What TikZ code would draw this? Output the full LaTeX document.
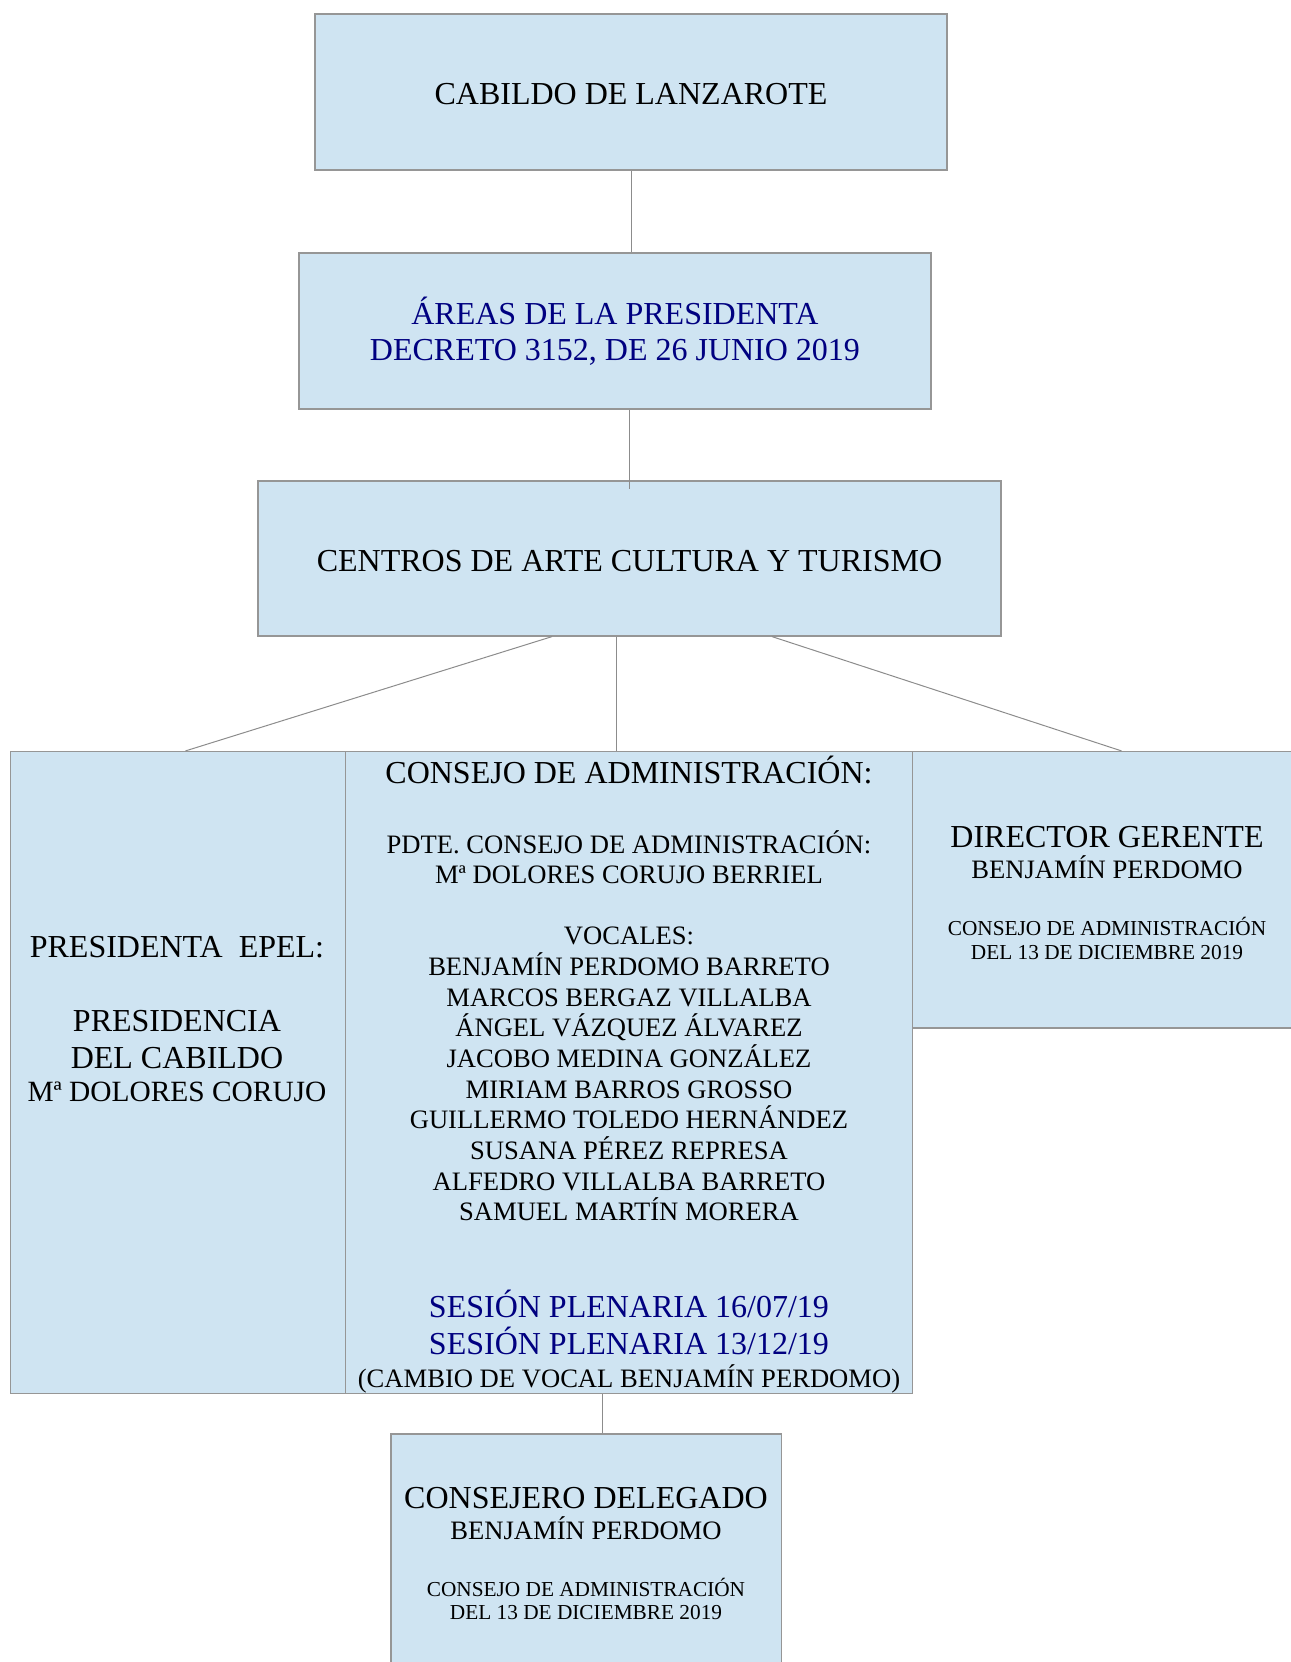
\documentclass[tikz,border=0pt]{standalone}
\usepackage{fontspec}
\setmainfont{Liberation Serif}
\definecolor{boxfill}{RGB}{207,228,242}
\definecolor{boxline}{RGB}{150,150,150}
\definecolor{linkgray}{RGB}{140,140,140}
\definecolor{navytext}{RGB}{0,0,128}

\begin{document}
\begin{tikzpicture}[x=1pt, y=-1pt,
    box/.style={draw=boxline, fill=boxfill, line width=1.2pt, inner sep=0pt, align=center},
    link/.style={draw=linkgray, line width=1pt},
    lbl/.style={anchor=base, inner sep=0pt},
    bigtxt/.style={font=\fontsize{32}{36}\selectfont},
    midtxt/.style={font=\fontsize{26.6}{30.5}\selectfont},
    smalltxt/.style={font=\fontsize{21.3}{24}\selectfont}]

    \useasboundingbox (0,0) rectangle (1290,1662);

    % Top boxes
    \node[box, bigtxt, text height=25pt, text depth=0pt, minimum width=632pt, minimum height=156pt] at (631,92) (cabildo) {CABILDO DE LANZAROTE};
    \node[box, bigtxt, text=navytext, minimum width=632pt, minimum height=156pt] at (615,331) (areas) {ÁREAS DE LA PRESIDENTA\\DECRETO 3152, DE 26 JUNIO 2019};
    \node[box, bigtxt, text height=25pt, text depth=0pt, minimum width=743pt, minimum height=155pt] at (629.5,558.5) (centros) {CENTROS DE ARTE CULTURA Y TURISMO};

    % Second level boxes
    \node[box, minimum width=335pt, minimum height=642pt] at (178.1,1072.5) (presi) {};
    \node[box, minimum width=567pt, minimum height=642pt] at (629.15,1072.5) (consejo) {};
    \node[box, minimum width=387.3pt, minimum height=276.5pt] at (1106.35,889.75) (director) {};
    \node[box, minimum width=390.5pt, minimum height=238pt] at (586.25,1553) (delegado) {};

    % Presidenta
    \node[lbl, bigtxt] at (177,957) (presiA) {PRESIDENTA~~EPEL:};
    \node[lbl, bigtxt] at (177,1031) (presiB) {PRESIDENCIA};
    \node[lbl, bigtxt] at (177,1068) (presiC) {DEL CABILDO};
    \node[lbl, font=\fontsize{29.4}{33}\selectfont] at (177,1101.5) (presiD) {Mª DOLORES CORUJO};

    % Consejo de administracion
    \node[lbl, bigtxt] at (629,783.5) (consejoHead) {CONSEJO DE ADMINISTRACIÓN:};
    \node[lbl, midtxt] at (629,853.4) (pdteA) {PDTE. CONSEJO DE ADMINISTRACIÓN:};
    \node[lbl, midtxt] at (629,883.3) (pdteB) {Mª DOLORES CORUJO BERRIEL};
    \node[lbl, midtxt] at (629,944.8) (vocales) {VOCALES:};
    \foreach \nm [count=\i from 0] in {BENJAMÍN PERDOMO BARRETO, MARCOS BERGAZ VILLALBA,
        ÁNGEL VÁZQUEZ ÁLVAREZ, JACOBO MEDINA GONZÁLEZ, MIRIAM BARROS GROSSO,
        GUILLERMO TOLEDO HERNÁNDEZ, SUSANA PÉREZ REPRESA, ALFEDRO VILLALBA BARRETO,
        SAMUEL MARTÍN MORERA}
        \node[lbl, midtxt] at (629,975.4+30.67*\i) (vocal\i) {\nm};
    \node[lbl, bigtxt, text=navytext] at (629,1317.5) (sesionA) {SESIÓN PLENARIA 16/07/19};
    \node[lbl, bigtxt, text=navytext] at (629,1354.5) (sesionB) {SESIÓN PLENARIA 13/12/19};
    \node[lbl, midtxt] at (629,1387.5) (cambio) {(CAMBIO DE VOCAL BENJAMÍN PERDOMO)};

    % Director gerente
    \node[lbl, bigtxt] at (1107,847) (dirA) {DIRECTOR GERENTE};
    \node[lbl, midtxt] at (1107,878) (dirB) {BENJAMÍN PERDOMO};
    \node[lbl, smalltxt] at (1107,935.5) (dirC) {CONSEJO DE ADMINISTRACIÓN};
    \node[lbl, smalltxt] at (1107,959) (dirD) {DEL 13 DE DICIEMBRE 2019};

    % Consejero delegado
    \node[lbl, bigtxt] at (586,1508.5) (delA) {CONSEJERO DELEGADO};
    \node[lbl, midtxt] at (586,1539) (delB) {BENJAMÍN PERDOMO};
    \node[lbl, smalltxt] at (586,1596.5) (delC) {CONSEJO DE ADMINISTRACIÓN};
    \node[lbl, smalltxt] at (586,1619.5) (delD) {DEL 13 DE DICIEMBRE 2019};

    % Connectors
    \coordinate (midTop) at ([xshift=-13.5pt]centros.south);
    \coordinate (delTop) at ([xshift=15.75pt]delegado.north);
    \draw[link] (cabildo.south) -- (cabildo.south |- areas.north);
    \draw[link] (areas.south -| centros.north) -- ([yshift=-9pt]centros.north);
    \draw[link] ([xshift=-77.5pt]centros.south) -- ([xshift=7.4pt]presi.north);
    \draw[link] (midTop) -- (midTop |- consejo.north);
    \draw[link] ([xshift=142.5pt]centros.south) -- ([xshift=15.15pt]director.north);
    \draw[link] (delTop) -- (delTop |- consejo.south);
\end{tikzpicture}
\end{document}
